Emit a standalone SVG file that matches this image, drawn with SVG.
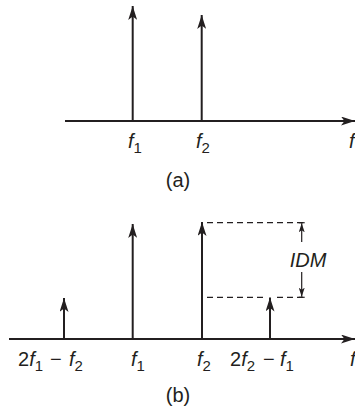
<svg xmlns="http://www.w3.org/2000/svg" width="355" height="413" viewBox="0 0 355 413">
<style>
.ax{stroke:#231f20;stroke-width:2;fill:none}
.st{stroke:#231f20;stroke-width:2;fill:none}
.da{stroke:#231f20;stroke-width:1.3;fill:none;stroke-dasharray:6,4}
.th{stroke:#231f20;stroke-width:1.2;fill:none}
text{font-family:"Liberation Sans",Arial,sans-serif;font-size:20px;fill:#231f20}
.i{font-style:italic}
.s{font-size:15px}
</style>
<defs>
<marker id="ah" markerUnits="userSpaceOnUse" viewBox="0 0 14 9" refX="14" refY="4.5" markerWidth="14" markerHeight="9" orient="auto">
<path d="M0,0 L14,4.5 L0,9 L3.5,4.5 Z" fill="#231f20"/>
</marker>
<marker id="sh" markerUnits="userSpaceOnUse" viewBox="0 0 9 6" refX="9" refY="3" markerWidth="9" markerHeight="6" orient="auto">
<path d="M0,0 L9,3 L0,6 L2,3 Z" fill="#231f20"/>
</marker>
</defs>
<g id="connectors">
<line class="ax" x1="65" y1="121" x2="355" y2="121" marker-end="url(#ah)"/>
<line class="st" x1="132.7" y1="121" x2="132.7" y2="6" marker-end="url(#ah)"/>
<line class="st" x1="201.7" y1="121" x2="201.7" y2="15" marker-end="url(#ah)"/>
<line class="ax" x1="9" y1="339" x2="355" y2="339" marker-end="url(#ah)"/>
<line class="st" x1="64" y1="339" x2="64" y2="298" marker-end="url(#ah)"/>
<line class="st" x1="132.7" y1="339" x2="132.7" y2="224" marker-end="url(#ah)"/>
<line class="st" x1="202" y1="339" x2="202" y2="222" marker-end="url(#ah)"/>
<line class="st" x1="270" y1="339" x2="270" y2="297.5" marker-end="url(#ah)"/>
<line class="da" x1="207" y1="222.7" x2="303" y2="222.7"/>
<line class="da" x1="207" y1="297.3" x2="264" y2="297.3"/>
<line class="da" x1="277" y1="297.3" x2="303" y2="297.3"/>
<line class="th" x1="301.7" y1="242" x2="301.7" y2="223.3" marker-end="url(#sh)"/>
<line class="th" x1="298.7" y1="222.7" x2="304.7" y2="222.7"/>
<line class="th" x1="301.7" y1="272" x2="301.7" y2="296.7" marker-end="url(#sh)"/>
<line class="th" x1="298.7" y1="297.3" x2="304.7" y2="297.3"/>
</g>
<g id="labels-a">
<text x="128" y="148"><tspan class="i">f</tspan><tspan class="s" dy="5">1</tspan></text>
<text x="196" y="148"><tspan class="i">f</tspan><tspan class="s" dy="5">2</tspan></text>
<text x="349" y="148" class="i">f</text>
<text x="178" y="187" text-anchor="middle">(a)</text>
</g>
<g id="labels-b">
<text x="18" y="366">2<tspan class="i">f</tspan><tspan class="s" dy="5">1</tspan><tspan dy="-5" x="50">−</tspan><tspan class="i" x="69">f</tspan><tspan class="s" dy="5">2</tspan></text>
<text x="131" y="366"><tspan class="i">f</tspan><tspan class="s" dy="5">1</tspan></text>
<text x="197" y="366"><tspan class="i">f</tspan><tspan class="s" dy="5">2</tspan></text>
<text x="230" y="366">2<tspan class="i">f</tspan><tspan class="s" dy="5">2</tspan><tspan dy="-5" x="263">−</tspan><tspan class="i" x="280">f</tspan><tspan class="s" dy="5">1</tspan></text>
<text x="350" y="366" class="i">f</text>
<text x="178" y="402" text-anchor="middle">(b)</text>
<text x="308" y="267" text-anchor="middle" class="i" font-size="21">IDM</text>
</g>
</svg>
